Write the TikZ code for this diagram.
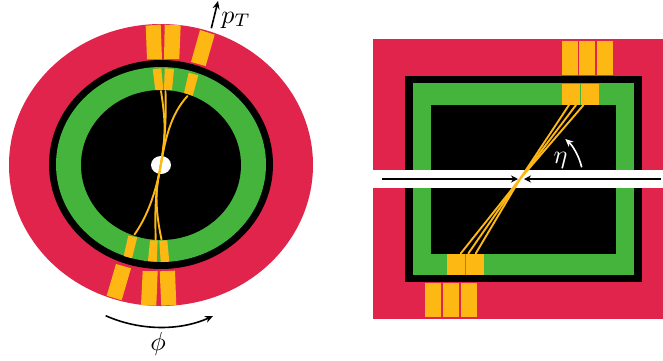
\documentclass[tikz,border=0pt]{standalone}
\usetikzlibrary{arrows.meta}
\definecolor{detred}{RGB}{225,36,75}
\definecolor{detgreen}{RGB}{69,180,61}
\definecolor{detorange}{RGB}{253,184,19}
\tikzset{
  redpart/.style={fill=detred,draw=none},
  greenpart/.style={fill=detgreen,draw=none},
  blackpart/.style={fill=black,draw=none},
  whitepart/.style={fill=white,draw=none},
  hit/.style={fill=detorange,draw=none},
  track/.style={draw=detorange,line width=1.9pt,line cap=round},
  axisarrow/.style={black,line width=1.6pt,-{Stealth[length=8pt,width=7pt]}},
  beamarrow/.style={black,line width=1.2pt,-{Stealth[length=7pt,width=7pt]}},
  whitearrow/.style={white,line width=1.6pt,-{Stealth[length=8pt,width=7pt]}},
  varlabel/.style={inner sep=0pt,scale=2.6}
}
\begin{document}
\begin{tikzpicture}[x=1pt,y=-1pt]
\useasboundingbox (0,0) rectangle (663,360);
% ---------- left: transverse view
\fill[redpart] (161,165) ellipse [x radius=152,y radius=141];
\fill[blackpart] (161,164.5) ellipse [x radius=112,y radius=104.5];
\fill[greenpart] (161,164.5) ellipse [x radius=105,y radius=97.5];
\fill[blackpart] (161,165) ellipse [x radius=80,y radius=75];
\fill[whitepart] (161,165) ellipse [x radius=10,y radius=9];
% outer blocks
\fill[hit] (145.7,25.7)--(160.7,24.5)--(162,59.3)--(147,59.3)--cycle;
\fill[hit] (164.7,24.7)--(180.7,25.3)--(179.3,59)--(164,59.3)--cycle;
\fill[hit] (200,30)--(214.7,34.7)--(205.7,66)--(191,62)--cycle;
\fill[hit] (116,264)--(131,268.3)--(121.7,300.3)--(106.7,295.7)--cycle;
\fill[hit] (142.7,271)--(157.7,271)--(156.3,305.7)--(141,305)--cycle;
\fill[hit] (159.7,271.3)--(175,270.7)--(176.3,305)--(161.3,305.7)--cycle;
% inner blocks
\fill[hit] (152.7,69)--(161.3,68.3)--(163.3,90)--(155.3,90)--cycle;
\fill[hit] (164.7,68.3)--(174,69)--(172,90)--(164,90)--cycle;
\fill[hit] (188.7,72.7)--(198.3,75.3)--(192.7,95.7)--(184,93)--cycle;
\fill[hit] (128.3,235.7)--(137.3,237.3)--(132,258.3)--(123.7,256)--cycle;
\fill[hit] (150,240.3)--(157.7,240.3)--(156.7,261.7)--(148,261)--cycle;
\fill[hit] (159.3,240.7)--(167.3,240.3)--(169.3,261.7)--(160.7,262)--cycle;
% tracks
\coordinate (lc) at (159.5,172);
\coordinate (lt1) at (161,91);
\coordinate (lt2) at (165.5,91);
\coordinate (lt3) at (187.5,96);
\coordinate (lb1) at (134.5,234.5);
\coordinate (lb2) at (155.7,239.5);
\coordinate (lb3) at (161.5,239.5);
\draw[track] (lt1) .. controls (165,118) and (167,135) .. (lc);
\draw[track] (lt2) .. controls (166,118) and (166,135) .. (lc);
\draw[track] (lt3) .. controls (170,115) and (165,140) .. (lc);
\draw[track] (lb1) .. controls (146,218) and (154,198) .. (lc);
\draw[track] (lb2) .. controls (155,215) and (155,195) .. (lc);
\draw[track] (lb3) .. controls (157,218) and (154,195) .. (lc);
% axis labels
\coordinate (ptstart) at (211.3,28.3);
\coordinate (ptend) at (218,1);
\draw[axisarrow] (ptstart) -- (ptend);
\node[varlabel] (ptlabel) at (236,20) {$p_T$};
\coordinate (phistart) at (105.7,315.7);
\coordinate (phiend) at (213,316);
\draw[axisarrow] (phistart) .. controls (140,331) and (180,331) .. (phiend);
\node[varlabel] (philabel) at (158,344) {$\phi$};
% ---------- right: longitudinal view
\fill[redpart] (373,39) rectangle (663,319);
\fill[blackpart] (405,76) rectangle (642,282);
\fill[greenpart] (413,83) rectangle (634,275);
\fill[blackpart] (431,105) rectangle (616,254);
\fill[whitepart] (373,170) rectangle (663,188);
\fill[hit] (562,41) rectangle (578,75);
\fill[hit] (579,41) rectangle (595,75);
\fill[hit] (597,41) rectangle (613,75);
\fill[hit] (562,84) rectangle (580,105);
\fill[hit] (581,84) rectangle (599,105);
\fill[hit] (447,254) rectangle (465,275);
\fill[hit] (466,254) rectangle (484,275);
\fill[hit] (425,283) rectangle (441,317);
\fill[hit] (443,283) rectangle (459,317);
\fill[hit] (461,283) rectangle (477,317);
% tracks
\coordinate (rc) at (520,179);
\coordinate (rt1) at (569,105);
\coordinate (rt2) at (576,105);
\coordinate (rt3) at (583.5,105);
\coordinate (rb1) at (460.7,253.5);
\coordinate (rb2) at (468.3,253.5);
\coordinate (rb3) at (475.7,253.5);
\foreach \e in {rt1,rt2,rt3,rb1,rb2,rb3} \draw[track] (rc) -- (\e);
% beam arrows
\coordinate (bl) at (382,179);
\coordinate (blt) at (518,179);
\coordinate (br) at (661,179);
\coordinate (brt) at (524,179);
\draw[beamarrow] (bl) -- (blt);
\draw[beamarrow] (br) -- (brt);
% eta
\coordinate (etastart) at (581.7,167.3);
\coordinate (etaend) at (565.3,139);
\draw[whitearrow] (etastart) .. controls (579,156) and (573,146) .. (etaend);
\node[varlabel,white] (etalabel) at (560.5,160) {$\eta$};
\end{tikzpicture}
\end{document}
